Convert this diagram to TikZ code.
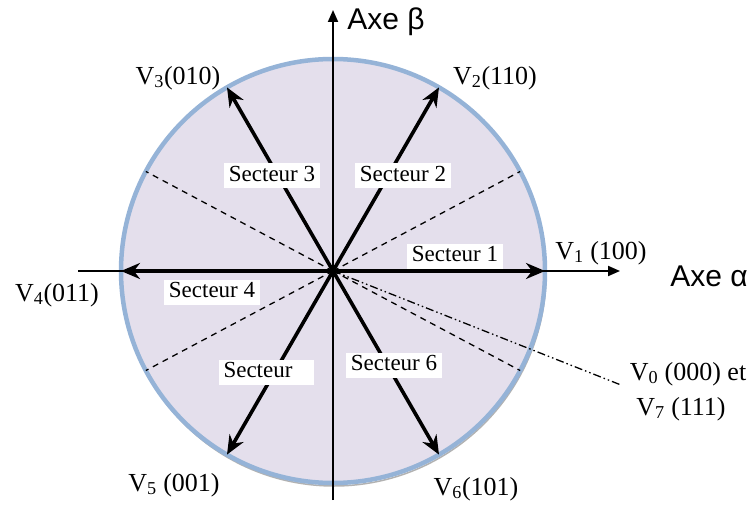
\documentclass[tikz,border=0pt]{standalone}
\usepackage{fontspec}
\setmainfont{Liberation Serif}
\newfontfamily\axefont{Liberation Sans}
\usetikzlibrary{arrows.meta}
\definecolor{disk}{HTML}{E4DFEC}
\definecolor{rim}{HTML}{95B3D7}
\begin{document}
\begin{tikzpicture}[x=1pt,y=1pt,
 vec/.style={line width=3.6pt,-{Stealth[length=19pt,width=16pt]}},
 axisline/.style={line width=1.9pt,-{Triangle[length=12pt,width=10pt]}},
 sector/.style={fill=white,inner xsep=5pt,inner ysep=2pt,text height=16pt,text depth=5pt,font=\fontsize{23}{25}\selectfont},
 vlab/.style={font=\fontsize{26}{28}\selectfont,inner sep=0pt},
 axlab/.style={font=\axefont\fontsize{30}{32}\selectfont,inner sep=0pt},
 sepline/.style={line width=1.3pt,dash pattern=on 6pt off 5pt},
 zeroline/.style={line width=1.3pt,dash pattern=on 8pt off 3pt on 1.5pt off 3pt on 1.5pt off 3pt}]
\useasboundingbox (0,0) rectangle (754,504);
\coordinate (O) at (333,233);
% disk
\draw[gray!60,line width=1.5pt] (334,230) circle (212);
\draw[fill=disk,draw=rim,line width=4.5pt] (O) circle (212);
% sector separators
\path (O) ++(28:212) coordinate (S1);
\path (O) ++(152:212) coordinate (S2);
\path (O) ++(208:212) coordinate (S3);
\path (O) ++(-28:212) coordinate (S4);
\draw[sepline] (O) -- (S1);
\draw[sepline] (O) -- (S2);
\draw[sepline] (O) -- (S3);
\draw[sepline] (O) -- (S4);
\coordinate (v0end) at (621,119);
\draw[zeroline] (O) -- (v0end);
% axes
\coordinate (axL) at (78,233);
\coordinate (axR) at (620,233);
\coordinate (axB) at (333,4);
\coordinate (axT) at (333,494);
\draw[axisline] (axL) -- (axR);
\draw[axisline] (axB) -- (axT);
% vectors
\path (O) ++(0:212) coordinate (T1);
\path (O) ++(60:212) coordinate (T2);
\path (O) ++(120:212) coordinate (T3);
\path (O) ++(180:212) coordinate (T4);
\path (O) ++(240:212) coordinate (T5);
\path (O) ++(300:212) coordinate (T6);
\draw[vec] (O) -- (T1);
\draw[vec] (O) -- (T2);
\draw[vec] (O) -- (T3);
\draw[vec] (O) -- (T4);
\draw[vec] (O) -- (T5);
\draw[vec] (O) -- (T6);
% sector labels
\node[sector] (sec1) at (455,248) {Secteur 1};
\node[sector] (sec2) at (403,328) {Secteur 2};
\node[sector] (sec3) at (272,328) {Secteur 3};
\node[sector] (sec4) at (212,212) {Secteur 4};
\node[sector,text width=85pt,align=left] (sec5) at (266,132) {Secteur};
\node[sector] (sec6) at (394,139) {Secteur 6};
% axis labels
\node[axlab] (beta) at (386,482) {Axe β};
\node[axlab] (alpha) at (709,228) {Axe α};
% vector labels
\node[vlab] (l1) at (601,251) {V\textsubscript{1} (100)};
\node[vlab] (l2) at (495,426) {V\textsubscript{2}(110)};
\node[vlab] (l3) at (178,426) {V\textsubscript{3}(010)};
\node[vlab] (l4) at (57,209) {V\textsubscript{4}(011)};
\node[vlab] (l5) at (174,19) {V\textsubscript{5} (001)};
\node[vlab] (l6) at (476,15) {V\textsubscript{6}(101)};
\node[vlab] (l0) at (688,130) {V\textsubscript{0} (000) et};
\node[vlab] (l7) at (681,95) {V\textsubscript{7} (111)};
\end{tikzpicture}
\end{document}
